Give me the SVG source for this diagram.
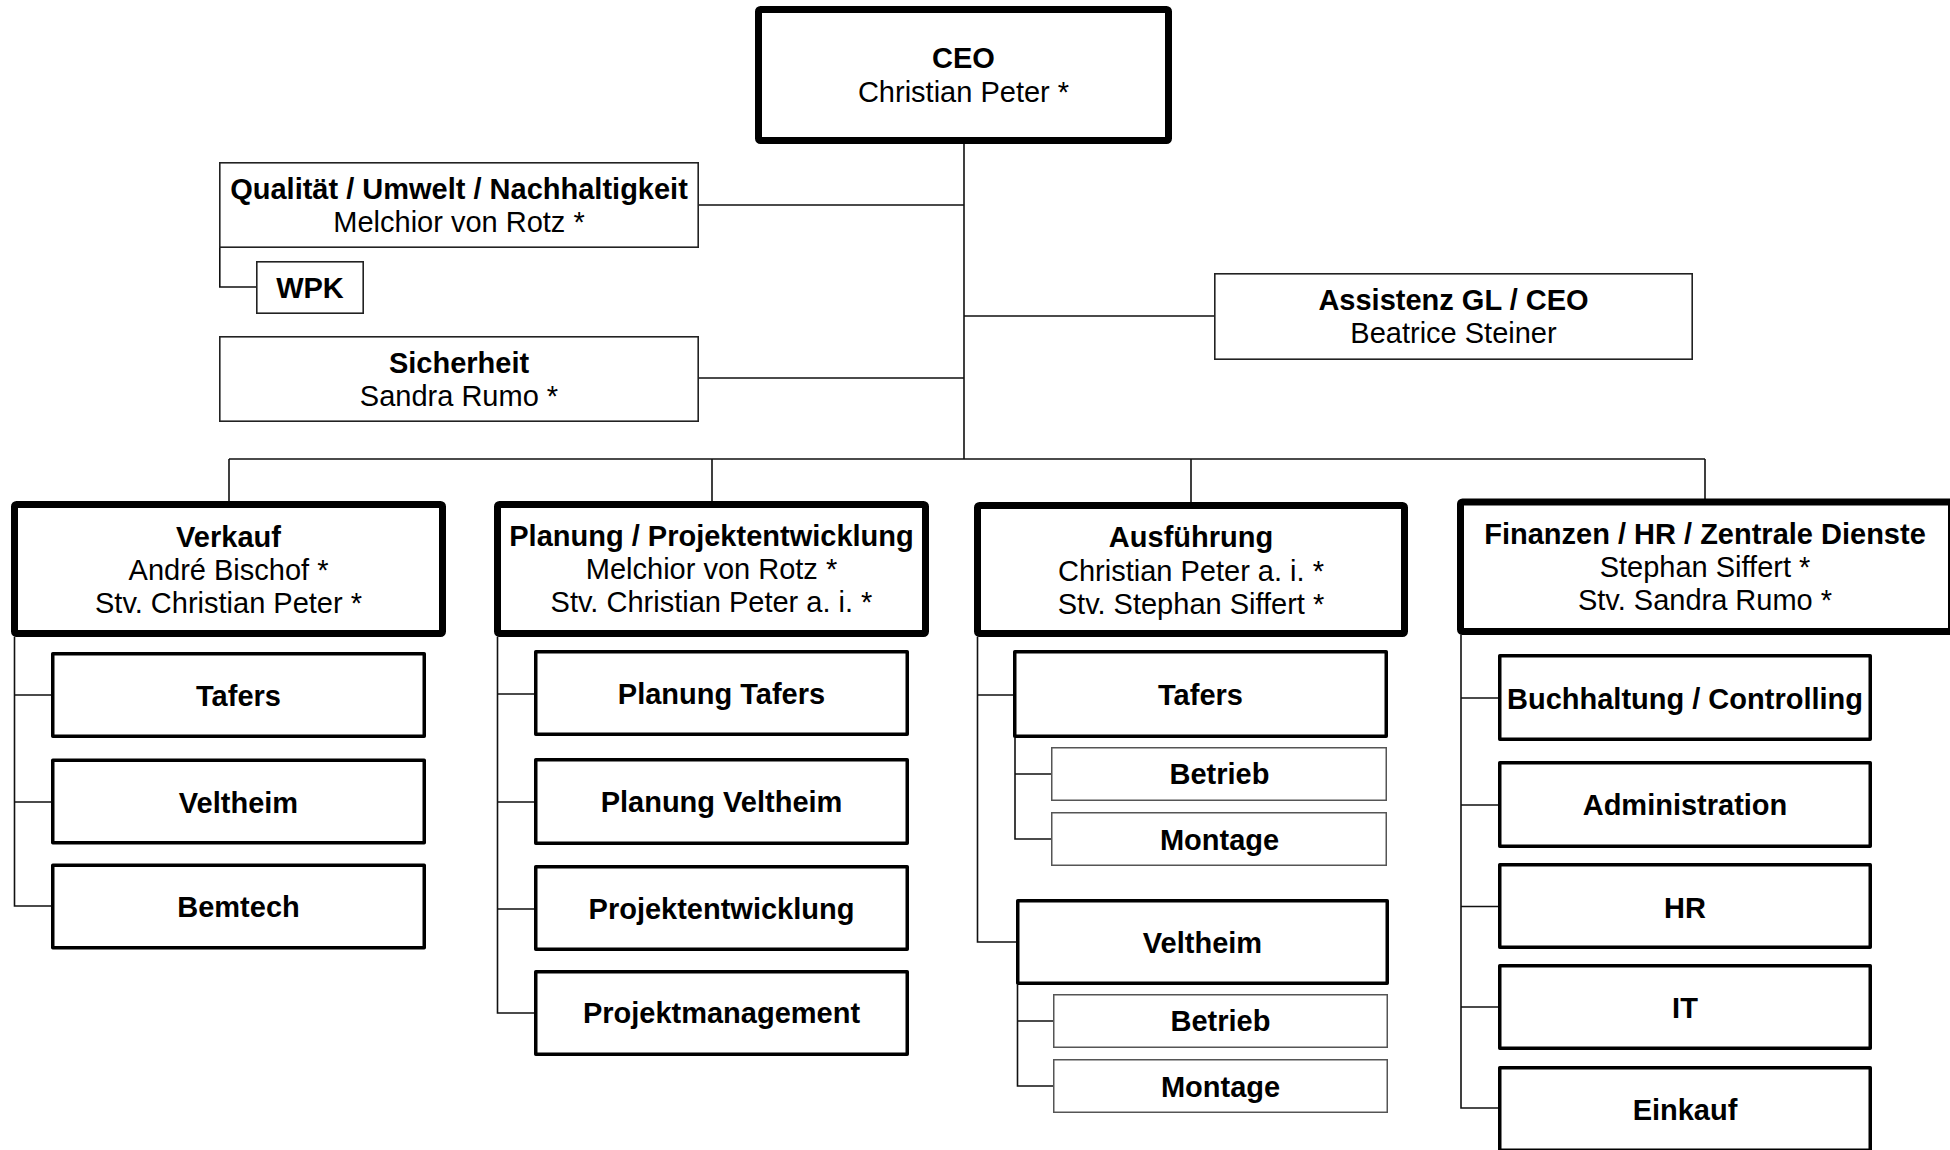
<svg xmlns="http://www.w3.org/2000/svg" width="1950" height="1150" viewBox="0 0 1950 1150">
<style>
text{font-family:"Liberation Sans",Arial,sans-serif;font-size:29px;fill:#000;text-anchor:middle}
.b{font-weight:bold}
.main{fill:#fff;stroke:#000;stroke-width:7;stroke-linejoin:round}
.sub{fill:#fff;stroke:#000;stroke-width:3.5;stroke-linejoin:round}
.thin{fill:#fff;stroke:#222;stroke-width:1.6}
.leaf{fill:#fff;stroke:#555;stroke-width:1.5}
.conn{fill:none;stroke:#111;stroke-width:1.6}
</style>
<rect width="1950" height="1150" fill="#fff"/>
<g id="connectors">
<path class="conn" d="M964 144V459M699 205H964M699 378H964M964 316H1214"/>
<path class="conn" d="M229 459H1705M229 459V501M712 459V501M1191 459V502M1705 459V499"/>
<path class="conn" d="M219.8 248V287H256"/>
<path class="conn" d="M14.5 637V906H51M14.5 695H51M14.5 802H51"/>
<path class="conn" d="M497.5 637V1013H534M497.5 694H534M497.5 802H534M497.5 909H534"/>
<path class="conn" d="M977.5 637V942H1016M977.5 695H1013"/>
<path class="conn" d="M1015 738V839H1051M1015 774H1051"/>
<path class="conn" d="M1017.5 985V1086H1053M1017.5 1021H1053"/>
<path class="conn" d="M1461 635V1108H1498M1461 698H1498M1461 805H1498M1461 906.5H1498M1461 1007H1498"/>
</g>
<g id="ceo">
<rect class="main" x="758.5" y="9.5" width="410" height="131" rx="2"/>
<text class="b" x="963.5" y="68">CEO</text>
<text x="963.5" y="102">Christian Peter *</text>
</g>
<g id="qualitaet">
<rect class="thin" x="219.8" y="162.8" width="478.4" height="84.4"/>
<text class="b" x="459" y="199">Qualität / Umwelt / Nachhaltigkeit</text>
<text x="459" y="232">Melchior von Rotz *</text>
</g>
<g id="wpk">
<rect class="thin" x="256.8" y="261.8" width="106.4" height="51.4"/>
<text class="b" x="310" y="298">WPK</text>
</g>
<g id="sicherheit">
<rect class="thin" x="219.8" y="336.8" width="478.4" height="84.4"/>
<text class="b" x="459" y="373">Sicherheit</text>
<text x="459" y="406">Sandra Rumo *</text>
</g>
<g id="assistenz">
<rect class="thin" x="1214.8" y="273.8" width="477.4" height="85.4"/>
<text class="b" x="1453.5" y="310">Assistenz GL / CEO</text>
<text x="1453.5" y="343">Beatrice Steiner</text>
</g>
<g id="verkauf">
<rect class="main" x="14.5" y="504.5" width="428" height="129" rx="2"/>
<text class="b" x="228.5" y="547">Verkauf</text>
<text x="228.5" y="580">André Bischof *</text>
<text x="228.5" y="613">Stv. Christian Peter *</text>
</g>
<g id="verkauf-tafers">
<rect class="sub" x="52.75" y="653.75" width="371.5" height="82.5"/>
<text class="b" x="238.5" y="706">Tafers</text>
</g>
<g id="verkauf-veltheim">
<rect class="sub" x="52.75" y="760.25" width="371.5" height="82.5"/>
<text class="b" x="238.5" y="813">Veltheim</text>
</g>
<g id="verkauf-bemtech">
<rect class="sub" x="52.75" y="865.25" width="371.5" height="82.5"/>
<text class="b" x="238.5" y="917">Bemtech</text>
</g>
<g id="planung">
<rect class="main" x="497.5" y="504.5" width="428" height="129" rx="2"/>
<text class="b" x="711.5" y="546">Planung / Projektentwicklung</text>
<text x="711.5" y="579">Melchior von Rotz *</text>
<text x="711.5" y="612">Stv. Christian Peter a. i. *</text>
</g>
<g id="planung-tafers">
<rect class="sub" x="535.75" y="651.75" width="371.5" height="82.5"/>
<text class="b" x="721.5" y="704">Planung Tafers</text>
</g>
<g id="planung-veltheim">
<rect class="sub" x="535.75" y="759.75" width="371.5" height="83.5"/>
<text class="b" x="721.5" y="812">Planung Veltheim</text>
</g>
<g id="projektentwicklung">
<rect class="sub" x="535.75" y="866.75" width="371.5" height="82.5"/>
<text class="b" x="721.5" y="919">Projektentwicklung</text>
</g>
<g id="projektmanagement">
<rect class="sub" x="535.75" y="971.75" width="371.5" height="82.5"/>
<text class="b" x="721.5" y="1023">Projektmanagement</text>
</g>
<g id="ausfuehrung">
<rect class="main" x="977.5" y="505.5" width="427" height="128" rx="2"/>
<text class="b" x="1191" y="547">Ausführung</text>
<text x="1191" y="581">Christian Peter a. i. *</text>
<text x="1191" y="614">Stv. Stephan Siffert *</text>
</g>
<g id="ausf-tafers">
<rect class="sub" x="1014.75" y="651.75" width="371.5" height="84.5"/>
<text class="b" x="1200.5" y="705">Tafers</text>
</g>
<g id="ausf-tafers-betrieb">
<rect class="leaf" x="1051.75" y="747.75" width="334.5" height="52.5"/>
<text class="b" x="1219.5" y="784">Betrieb</text>
</g>
<g id="ausf-tafers-montage">
<rect class="leaf" x="1051.75" y="812.75" width="334.5" height="52.5"/>
<text class="b" x="1219.5" y="850">Montage</text>
</g>
<g id="ausf-veltheim">
<rect class="sub" x="1017.75" y="900.75" width="369.5" height="82.5"/>
<text class="b" x="1202.5" y="953">Veltheim</text>
</g>
<g id="ausf-veltheim-betrieb">
<rect class="leaf" x="1053.75" y="994.75" width="333.5" height="52.5"/>
<text class="b" x="1220.5" y="1031">Betrieb</text>
</g>
<g id="ausf-veltheim-montage">
<rect class="leaf" x="1053.75" y="1059.75" width="333.5" height="52.5"/>
<text class="b" x="1220.5" y="1097">Montage</text>
</g>
<g id="finanzen">
<rect class="main" x="1460.5" y="502" width="491" height="129.5" rx="2"/>
<text class="b" x="1705" y="544">Finanzen / HR / Zentrale Dienste</text>
<text x="1705" y="577">Stephan Siffert *</text>
<text x="1705" y="610">Stv. Sandra Rumo *</text>
</g>
<g id="buchhaltung">
<rect class="sub" x="1499.75" y="655.75" width="370.5" height="83.5"/>
<text class="b" x="1685" y="709">Buchhaltung / Controlling</text>
</g>
<g id="administration">
<rect class="sub" x="1499.75" y="762.75" width="370.5" height="83.5"/>
<text class="b" x="1685" y="815">Administration</text>
</g>
<g id="hr">
<rect class="sub" x="1499.75" y="864.75" width="370.5" height="82.5"/>
<text class="b" x="1685" y="918">HR</text>
</g>
<g id="it">
<rect class="sub" x="1499.75" y="965.75" width="370.5" height="82.5"/>
<text class="b" x="1685" y="1018">IT</text>
</g>
<g id="einkauf">
<rect class="sub" x="1499.75" y="1067.75" width="370.5" height="82.5"/>
<text class="b" x="1685" y="1120">Einkauf</text>
</g>
</svg>
